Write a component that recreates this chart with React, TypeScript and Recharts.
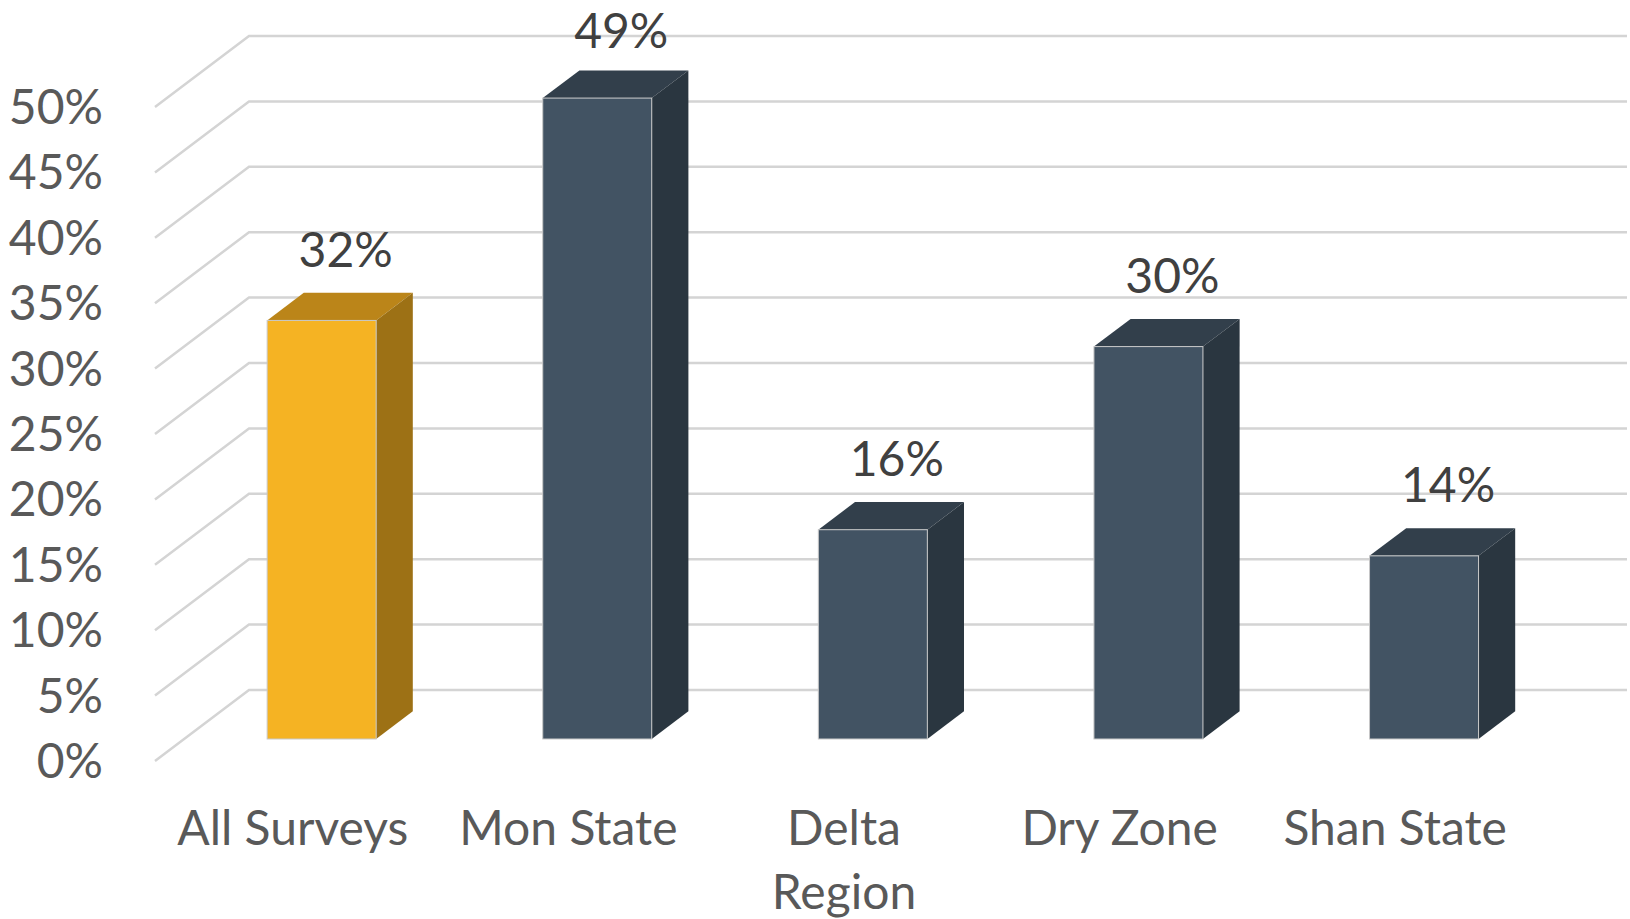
import React from 'react';
import { BarChart, Bar, XAxis, YAxis, CartesianGrid, Cell, LabelList } from 'recharts';

const categories = ['All Surveys', 'Mon State', 'Delta Region', 'Dry Zone', 'Shan State'];
const shares = [32, 49, 16, 30, 14];
const barColors = ['#F5B323', '#425363', '#425363', '#425363', '#425363'];
const yTicks = [0, 5, 10, 15, 20, 25, 30, 35, 40, 45, 50];

const data = categories.map((name, i) => ({ name, share: shares[i], color: barColors[i] }));

// fake 3d: depth of the floor, and where the boxes sit inside it (fractions of depth)
const DX = 94;
const DY = 71;
const FRONT = 0.31;
const BACK = 0.7;

const SHADES: Record<string, { top: string; side: string }> = {
  '#F5B323': { top: '#BB8519', side: '#9D7115' },
  '#425363': { top: '#323F4B', side: '#2A3640' },
};

const FONT = 'Lato, "Open Sans", sans-serif';

const Box = (props: any) => {
  const { x, y, width, height, fill } = props;
  const fx = x + FRONT * DX;
  const fy = y - FRONT * DY;
  const sx = (BACK - FRONT) * DX;
  const sy = (BACK - FRONT) * DY;
  const shade = SHADES[fill] || { top: fill, side: fill };
  return (
    <g>
      <polygon
        points={`${fx},${fy} ${fx + sx},${fy - sy} ${fx + width + sx},${fy - sy} ${fx + width},${fy}`}
        fill={shade.top}
      />
      <polygon
        points={`${fx + width},${fy} ${fx + width + sx},${fy - sy} ${fx + width + sx},${fy - sy + height} ${fx + width},${fy + height}`}
        fill={shade.side}
      />
      <rect x={fx} y={fy} width={width} height={height} fill={fill} stroke="#c8c8c8" strokeWidth={1} />
    </g>
  );
};

// each grid line runs diagonally along the left wall, then across the back wall
const wallLine = (p: any) => {
  const { x1, y1, x2, index } = p;
  return (
    <path
      key={`wall-${index}-${y1}`}
      d={`M${x1},${y1} L${x1 + DX},${y1 - DY} L${x2 + DX},${y1 - DY}`}
      fill="none"
      stroke="#d4d4d4"
      strokeWidth={2.5}
    />
  );
};

const TopLabel = (p: any) => {
  const { x, y, width, value } = p;
  // keep the tallest label inside the picture
  const ty = Math.max(y - BACK * DY - 26, 48);
  return (
    <text
      x={x + width / 2 + FRONT * DX + 24}
      y={ty}
      textAnchor="middle"
      fill="#404040"
      fontFamily={FONT}
      fontSize={48}
    >
      {value}%
    </text>
  );
};

// long names go on two lines, like the original
const CategoryTick = (p: any) => {
  const { x, y, payload } = p;
  const name: string = payload.value;
  const lines = name.length > 11 ? name.split(' ') : [name];
  return (
    <text x={x} y={y + 84} textAnchor="middle" fill="#595959" fontFamily={FONT} fontSize={48}>
      {lines.map((l, i) => (
        <tspan key={l} x={x} dy={i === 0 ? 0 : 64}>
          {l}
        </tspan>
      ))}
    </text>
  );
};

export default function App() {
  return (
    <div style={{ position: 'absolute', left: 0, top: 0, width: 1630, height: 919, background: '#fff' }}>
      <BarChart
        width={1630}
        height={919}
        data={data}
        margin={{ top: 107, right: 97, bottom: 58, left: 0 }}
      >
        <CartesianGrid vertical={false} horizontal={wallLine} />
        <XAxis
          dataKey="name"
          axisLine={false}
          tickLine={false}
          tickSize={0}
          tickMargin={0}
          height={100}
          interval={0}
          tick={<CategoryTick />}
        />
        <YAxis
          domain={[0, 50]}
          ticks={yTicks}
          width={155}
          axisLine={false}
          tickLine={false}
          tickSize={0}
          tickMargin={52}
          tickFormatter={(v: number) => `${v}%`}
          tick={{ fill: '#595959', fontFamily: FONT, fontSize: 48 }}
        />
        <Bar dataKey="share" barSize={109} shape={<Box />} isAnimationActive={false}>
          {data.map((d, i) => (
            <Cell key={`c-${i}`} fill={d.color} />
          ))}
          <LabelList dataKey="share" content={<TopLabel />} />
        </Bar>
      </BarChart>
    </div>
  );
}
